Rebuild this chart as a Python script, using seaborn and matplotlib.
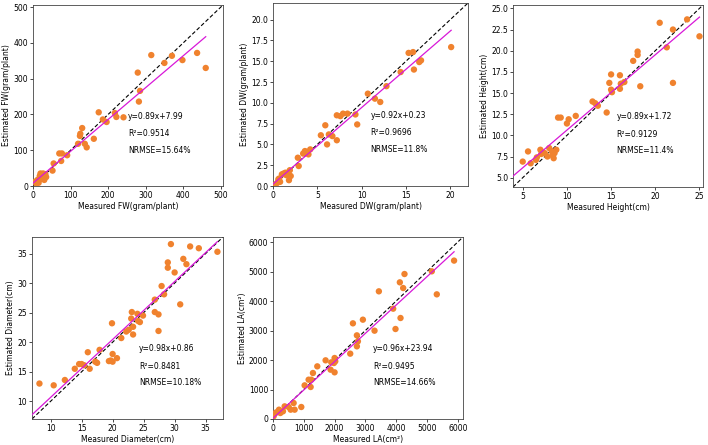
import numpy as np
import pandas as pd
import seaborn as sns
import matplotlib.pyplot as plt

# =========================================================
# Data
# =========================================================
fw_measured = [315, 279, 370, 350, 437, 398, 460, 285, 282, 175, 218, 222, 241, 186,
               196, 131, 126, 125, 162, 120, 138, 143, 70, 77, 91, 75, 55, 52,
               6, 12, 20, 24, 28, 27, 20, 30, 15, 9, 33, 22, 35, 18]
fw_estimated = [366, 317, 364, 344, 372, 352, 330, 266, 236, 206, 204, 193, 192, 186,
                179, 162, 146, 140, 132, 118, 118, 108, 91, 91, 86, 70, 63, 43,
                12, 17, 26, 30, 26, 35, 35, 17, 9, 7, 33, 20, 25, 28]

dw_measured = [20.1, 15.3, 15.8, 16.5, 16.7, 15.9, 14.4, 12.8, 10.7, 11.5, 12.1, 7.2, 7.6,
               7.9, 8.4, 9.3, 9.5, 5.9, 5.4, 6.3, 6.7, 6.1, 7.2, 4.0, 3.4, 3.6, 4.2, 3.8,
               2.8, 2.9, 1.7, 1.8, 2.0, 1.9, 0.3, 0.5, 0.7, 0.8, 1.0, 1.2, 1.4, 0.6, 1.5]
dw_estimated = [16.7, 16.0, 16.1, 14.9, 15.1, 14.0, 13.7, 12.0, 11.1, 10.5, 10.1, 8.5, 8.4,
                8.7, 8.7, 8.6, 7.4, 7.3, 6.1, 6.2, 6.0, 5.0, 5.5, 3.8, 3.9, 4.2, 4.4, 4.1,
                3.4, 2.4, 1.6, 0.7, 1.2, 1.9, 0.2, 0.4, 0.9, 0.5, 1.4, 1.5, 1.6, 0.8, 1.3]

height_measured = [20.5, 23.6, 22.0, 21.3, 25.0, 18.0, 18.0, 17.5, 15.0, 16.0, 14.8, 16.5,
                   16.1, 22.0, 15.0, 15.1, 16.0, 18.3, 12.9, 13.2, 13.5, 14.5, 11.0, 10.2,
                   10.0, 9.0, 9.3, 5.6, 5.0, 5.9, 6.5, 6.6, 7.0, 7.2, 7.5, 7.8, 8.0, 8.3,
                   8.4, 8.5, 8.8, 8.6, 7.1]
height_estimated = [23.3, 23.7, 22.5, 20.4, 21.7, 19.9, 19.5, 18.8, 17.2, 17.1, 16.2, 16.3,
                    16.1, 16.2, 15.4, 15.1, 15.5, 15.8, 14.0, 13.8, 13.5, 12.7, 12.3, 11.9,
                    11.4, 12.1, 12.1, 8.1, 6.9, 6.7, 7.1, 7.4, 8.3, 8.0, 7.9, 7.5, 8.5, 8.1,
                    7.6, 7.3, 8.3, 7.9, 7.8]

diameter_measured = [29.4, 32.5, 33.9, 36.9, 31.4, 28.9, 28.9, 31.9, 30.0, 27.9, 26.8, 28.3,
                     30.9, 26.8, 27.4, 27.4, 23.1, 24.0, 23.0, 24.9, 24.1, 24.4, 23.3, 23.3,
                     22.2, 22.6, 21.4, 19.9, 20.0, 20.7, 19.4, 19.7, 20.0, 17.9, 17.2, 17.5,
                     16.0, 16.3, 15.4, 15.0, 14.6, 13.9, 12.3, 10.5, 8.2]
diameter_estimated = [36.6, 36.2, 35.9, 35.3, 34.1, 33.5, 32.6, 33.2, 31.8, 29.5, 27.2, 28.1,
                      26.4, 25.1, 24.7, 21.9, 25.1, 24.8, 24.0, 24.5, 23.6, 23.4, 22.6, 21.3,
                      21.8, 22.1, 20.7, 23.2, 18.0, 17.3, 16.8, 16.9, 16.7, 18.7, 16.7, 16.5,
                      18.3, 15.5, 16.1, 16.3, 16.3, 15.5, 13.6, 12.7, 13.0]

la_measured = [5880, 5157, 5319, 4270, 4119, 4227, 3438, 3903, 4141, 3978, 3297, 2919,
               2595, 2724, 2757, 2724, 2508, 2000, 1978, 2022, 1892, 1708, 1870, 2000,
               1438, 1297, 1157, 1222, 1027, 1243, 919, 670, 508, 573, 703, 378, 195,
               108, 54, 238, 324, 20]
la_estimated = [5370, 5006, 4226, 4915, 4633, 4440, 4328, 3740, 3424, 3051, 2994, 3367,
                3243, 2836, 2633, 2463, 2215, 2068, 1898, 1955, 1921, 1989, 1672, 1582,
                1785, 1559, 1333, 1085, 1141, 1333, 407, 542, 407, 316, 316, 429, 316,
                226, 181, 203, 260, 90]

x_labels = ["Measured FW(gram/plant)", "Measured DW(gram/plant)", "Measured Height(cm)",
            "Measured Diameter(cm)", "Measured LA(cm²)"]
y_labels = ["Estimated FW(gram/plant)", "Estimated DW(gram/plant)", "Estimated Height(cm)",
            "Estimated Diameter(cm)", "Estimated LA(cm²)"]

slopes = [0.89, 0.92, 0.89, 0.98, 0.96]
intercepts = [7.99, 0.23, 1.72, 0.86, 23.94]
r2_values = ["0.9514", "0.9696", "0.9129", "0.8481", "0.9495"]
nrmse_values = ["15.64%", "11.8%", "11.4%", "10.18%", "14.66%"]

limits = [(0, 506), (0, 22), (3.9, 25.4), (7, 37.8), (0, 6170)]
x_ticks = [np.arange(0, 501, 100), np.arange(0, 21, 5), np.arange(5, 26, 5),
           np.arange(10, 36, 5), np.arange(0, 6001, 1000)]
y_ticks = [np.arange(0, 501, 100), np.arange(0, 20.1, 2.5), np.arange(5, 25.1, 2.5),
           np.arange(10, 36, 5), np.arange(0, 6001, 1000)]
y_fmt = ["{:.0f}", "{:.1f}", "{:.1f}", "{:.0f}", "{:.0f}"]

# axes boxes in figure pixels (left, top, right, bottom) and text anchor
boxes = [(33, 5, 223, 186), (273, 3, 468, 186), (513, 5, 703, 187),
         (32, 237, 223, 419), (273, 237, 463, 419)]
text_x = [0.50, 0.50, 0.545, 0.56, 0.525]

FS = 5.5
W, H = 708, 445


def plot_panel(ax, i, measured, estimated):
    df = pd.DataFrame({"measured": measured, "estimated": estimated})
    sns.scatterplot(data=df, x="measured", y="estimated", ax=ax, color="#f0822e",
                    s=21, edgecolor="none", zorder=3)

    lo, hi = limits[i]
    # 1:1 line
    ax.plot([lo, hi], [lo, hi], color="black", linestyle="--", linewidth=0.8,
            dashes=(3.5, 2), zorder=2)
    # fitted line
    xs = np.array([lo, max(measured)])
    ax.plot(xs, slopes[i] * xs + intercepts[i], color="#d818d8", linewidth=0.9, zorder=4)

    ax.set_xlim(lo, hi)
    ax.set_ylim(lo, hi)
    ax.set_xticks(x_ticks[i])
    ax.set_yticks(y_ticks[i])
    ax.set_yticklabels([y_fmt[i].format(v) for v in y_ticks[i]])
    ax.set_xlabel(x_labels[i], fontsize=FS, labelpad=1.5)
    ax.set_ylabel(y_labels[i], fontsize=FS, labelpad=1.5)
    ax.tick_params(labelsize=FS, length=2, width=0.5, pad=1.5)
    for sp in ax.spines.values():
        sp.set_linewidth(0.6)
        sp.set_color("#444444")

    tx = text_x[i]
    ax.text(tx, 0.385, f"y={slopes[i]}x+{intercepts[i]}", transform=ax.transAxes,
            fontsize=FS, va="center")
    ax.text(tx, 0.29, f"R²={r2_values[i]}", transform=ax.transAxes,
            fontsize=FS, va="center")
    ax.text(tx, 0.198, f"NRMSE={nrmse_values[i]}", transform=ax.transAxes,
            fontsize=FS, va="center")


if __name__ == "__main__":
    fig = plt.figure(figsize=(W / 100, H / 100), dpi=100)
    data = [(fw_measured, fw_estimated), (dw_measured, dw_estimated),
            (height_measured, height_estimated), (diameter_measured, diameter_estimated),
            (la_measured, la_estimated)]
    for i, (m, e) in enumerate(data):
        l, t, r, b = boxes[i]
        ax = fig.add_axes([l / W, (H - b) / H, (r - l) / W, (b - t) / H])
        plot_panel(ax, i, m, e)

    plt.savefig("out.png", dpi=100)
    plt.close()
